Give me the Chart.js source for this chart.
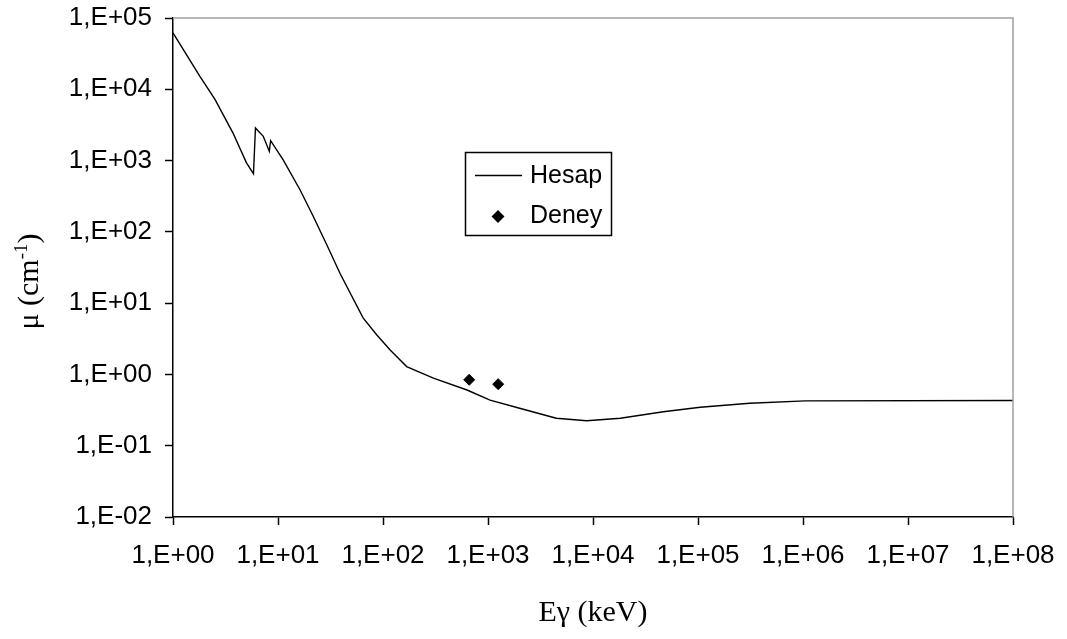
<!DOCTYPE html>
<html>
<head>
<meta charset="utf-8">
<script src="https://cdn.jsdelivr.net/npm/chart.js@4.4.0/dist/chart.umd.min.js"></script>
<style>
  html, body { margin: 0; padding: 0; background: #fff; }
</style>
</head>
<body>
<canvas id="muChart" width="1067" height="639"></canvas>
<script>
// calculated attenuation coefficient (Hesap), energy in keV
const hesapEnergy = [1, 1.81, 2.51, 3.72, 5.01, 5.84, 6.1, 7.24, 8.26, 8.51, 11.2, 16.2, 21.7, 30.2,
    38.9, 64.6, 87, 117, 168, 302, 631, 1047, 2000, 4470, 8710, 18200, 46800, 105000, 310000,
    1050000, 100000000];
const hesapMu = [62000, 15100, 7200, 2450, 930, 655, 2870, 2190, 1350, 1900, 1020, 390, 164, 59,
    26.3, 6.2, 3.6, 2.2, 1.29, 0.885, 0.605, 0.437, 0.335, 0.243, 0.224, 0.243, 0.30, 0.347, 0.394,
    0.425, 0.43];

// measured points (Deney)
const deneyEnergy = [662, 1250];
const deneyMu = [0.84, 0.73];

const xTickValues = [1, 10, 100, 1e3, 1e4, 1e5, 1e6, 1e7, 1e8];
const xTickLabels = ["1,E+00", "1,E+01", "1,E+02", "1,E+03", "1,E+04", "1,E+05", "1,E+06", "1,E+07", "1,E+08"];
const yTickValues = [1e-2, 1e-1, 1, 10, 100, 1e3, 1e4, 1e5];
const yTickLabels = ["1,E-02", "1,E-01", "1,E+00", "1,E+01", "1,E+02", "1,E+03", "1,E+04", "1,E+05"];

const sansFont = "'Liberation Sans', Arial, sans-serif";
const serifFont = "'Liberation Serif', 'Times New Roman', serif";

Chart.defaults.font.family = sansFont;
Chart.defaults.color = "#000";

// gray frame on the top and right of the plot area
const frame = {
    id: "frame",
    afterDraw(chart) {
        const { ctx, chartArea: a } = chart;
        ctx.save();
        ctx.strokeStyle = "#a0a0a0";
        ctx.lineWidth = 1.5;
        ctx.beginPath();
        ctx.moveTo(a.left, a.top);
        ctx.lineTo(a.right, a.top);
        ctx.lineTo(a.right, a.bottom);
        ctx.stroke();
        ctx.restore();
    }
};

// y axis title with a superscript exponent
const yTitle = {
    id: "yTitle",
    afterDraw(chart) {
        const { ctx, chartArea: a } = chart;
        const base = "30px " + serifFont;
        const sup = "19px " + serifFont;
        ctx.save();
        ctx.font = base;
        const w1 = ctx.measureText("\u03bc (cm").width;
        const w3 = ctx.measureText(")").width;
        ctx.font = sup;
        const w2 = ctx.measureText("-1").width;
        const total = w1 + w2 + w3;
        ctx.translate(38, (a.top + a.bottom) / 2 + 14);
        ctx.rotate(-Math.PI / 2);
        ctx.fillStyle = "#000";
        ctx.textBaseline = "alphabetic";
        let x = -total / 2;
        ctx.font = base;
        ctx.fillText("\u03bc (cm", x, 0);
        x += w1;
        ctx.font = sup;
        ctx.fillText("-1", x, -11);
        x += w2;
        ctx.font = base;
        ctx.fillText(")", x, 0);
        ctx.restore();
    }
};

// boxed legend inside the plot
const legendBox = {
    id: "legendBox",
    afterDraw(chart) {
        const ctx = chart.ctx;
        const [hesap, deney] = chart.data.datasets;
        ctx.save();
        ctx.fillStyle = "#fff";
        ctx.fillRect(465, 152, 146, 84);
        ctx.strokeStyle = "#000";
        ctx.lineWidth = 1.5;
        ctx.strokeRect(465.5, 152.5, 146, 83);

        ctx.strokeStyle = hesap.borderColor;
        ctx.lineWidth = hesap.borderWidth;
        ctx.beginPath();
        ctx.moveTo(475, 175.5);
        ctx.lineTo(522, 175.5);
        ctx.stroke();

        ctx.fillStyle = deney.backgroundColor;
        ctx.strokeStyle = deney.borderColor;
        Chart.helpers.drawPoint(ctx, {
            pointStyle: deney.pointStyle, radius: deney.pointRadius,
            borderWidth: deney.borderWidth, rotation: 0
        }, 498, 216.5);

        ctx.fillStyle = "#000";
        ctx.font = "25px " + sansFont;
        ctx.textBaseline = "middle";
        ctx.fillText(hesap.label, 530, 176);
        ctx.fillText(deney.label, 530, 216);
        ctx.restore();
    }
};

function decadeTicks(values) {
    return scale => { scale.ticks = values.map(v => ({ value: v })); };
}

// fixed axis box size; labels may hang over the layout padding
function fixedSize(prop, size) {
    return scale => {
        scale[prop] = size;
        scale.paddingTop = scale.paddingBottom = 0;
        scale.paddingLeft = scale.paddingRight = 0;
    };
}

new Chart(document.getElementById("muChart"), {
    type: "scatter",
    data: {
        datasets: [
            {
                label: "Hesap",
                data: hesapEnergy.map((e, i) => ({ x: e, y: hesapMu[i] })),
                showLine: true,
                borderColor: "#000",
                borderWidth: 1.4,
                pointRadius: 0,
                tension: 0
            },
            {
                label: "Deney",
                data: deneyEnergy.map((e, i) => ({ x: e, y: deneyMu[i] })),
                pointStyle: "rectRot",
                pointRadius: 5.5,
                backgroundColor: "#000",
                borderColor: "#000",
                borderWidth: 1
            }
        ]
    },
    options: {
        responsive: false,
        animation: false,
        layout: { autoPadding: false, padding: { top: 18, right: 54, left: 0, bottom: 0 } },
        plugins: {
            legend: { display: false },
            tooltip: { enabled: false }
        },
        scales: {
            x: {
                type: "logarithmic",
                position: "bottom",
                min: 1,
                max: 1e8,
                afterBuildTicks: decadeTicks(xTickValues),
                afterFit: fixedSize("height", 122),
                grid: { drawOnChartArea: false, tickLength: 8, tickColor: "#000", tickWidth: 1.5 },
                border: { color: "#000", width: 1.5 },
                ticks: {
                    autoSkip: false,
                    maxRotation: 0,
                    padding: 15,
                    font: { size: 26 },
                    callback: (v, i) => xTickLabels[i]
                },
                title: {
                    display: true,
                    text: "E\u03b3 (keV)",
                    font: { family: serifFont, size: 30 },
                    padding: { top: 0, bottom: 8 }
                }
            },
            y: {
                type: "logarithmic",
                min: 0.01,
                max: 1e5,
                afterBuildTicks: decadeTicks(yTickValues),
                afterFit: fixedSize("width", 173),
                grid: { drawOnChartArea: false, tickLength: 8, tickColor: "#000", tickWidth: 1.5 },
                border: { color: "#000", width: 1.5 },
                ticks: {
                    autoSkip: false,
                    padding: 13,
                    font: { size: 26 },
                    callback: (v, i) => yTickLabels[i]
                }
            }
        }
    },
    plugins: [frame, yTitle, legendBox]
});
</script>
</body>
</html>
